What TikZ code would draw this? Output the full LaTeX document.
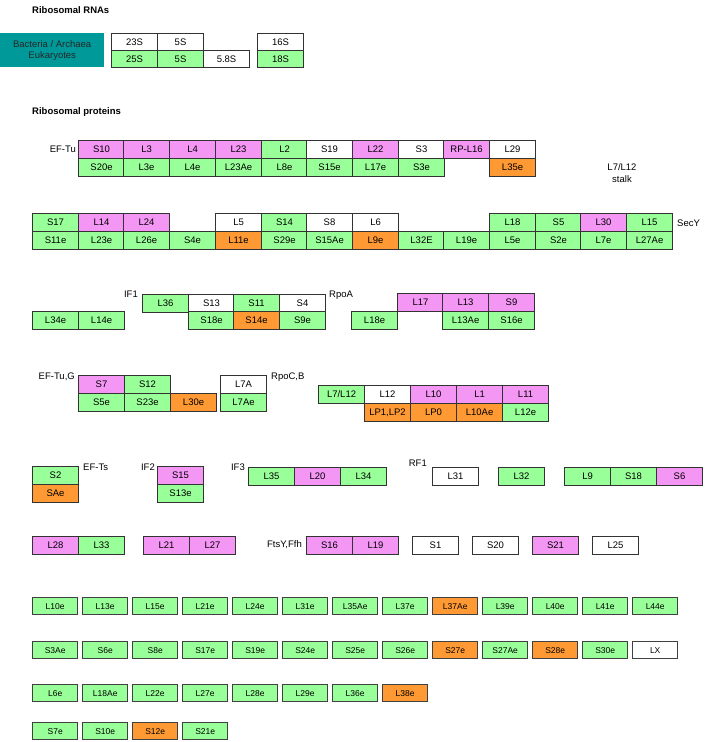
\documentclass[tikz,border=0pt]{standalone}
\usepackage{fontspec}
\setmainfont{Liberation Sans}
\definecolor{pk}{RGB}{244,150,244}
\definecolor{gr}{RGB}{153,255,153}
\definecolor{or}{RGB}{255,153,51}
\definecolor{wh}{RGB}{255,255,255}
\definecolor{tl}{RGB}{0,153,153}
\tikzset{
 cellbox/.style={draw=black!80,line width=1.1pt,inner sep=0pt,anchor=north west,minimum width=46pt,minimum height=18pt,font=\fontsize{9.5}{10}\selectfont},
 gbox/.style={draw=black!75,line width=1.4pt,inner sep=0pt,anchor=north west,minimum width=45pt,minimum height=17pt,font=\fontsize{8.5}{9}\selectfont},
 lbl/.style={inner sep=0pt,font=\fontsize{9.5}{10}\selectfont},
 hdr/.style={inner sep=0pt,anchor=west,font=\bfseries\fontsize{9.5}{10}\selectfont}
}
\newcommand\bx[4]{\node[cellbox,fill=#3] (n-#1-#2) at (#1,#2) {#4};}
\newcommand\gbx[4]{\node[gbox,fill=#3] (g-#1-#2) at (#1,#2) {#4};}
\begin{document}
\begin{tikzpicture}[x=1pt,y=-1pt]
\useasboundingbox (0,0) rectangle (705,742);
% headers
\node[hdr] (h1) at (32,10) {Ribosomal RNAs};
\node[hdr] (h2) at (32,112) {Ribosomal proteins};
% RNA
\node[fill=tl,anchor=north west,minimum width=104pt,minimum height=34pt,inner sep=0pt,font=\fontsize{9.5}{11}\selectfont,align=center,text=black!85] (teal) at (0,33) {Bacteria / Archaea\\Eukaryotes};
\node[cellbox,fill=wh,minimum height=17pt] (r1) at (111,33) {23S};
\node[cellbox,fill=wh,minimum height=17pt] (r2) at (157,33) {5S};
\node[cellbox,fill=gr,minimum height=17pt] (r3) at (111,50) {25S};
\node[cellbox,fill=gr,minimum height=17pt] (r4) at (157,50) {5S};
\node[cellbox,fill=wh,minimum height=17pt] (r5) at (203,50) {5.8S};
\node[cellbox,fill=wh,minimum height=17pt] (r6) at (257,33) {16S};
\node[cellbox,fill=gr,minimum height=17pt] (r7) at (257,50) {18S};
% row 1
\node[lbl,anchor=east] (efTu) at (76,149) {EF-Tu};
\bx{78}{140}{pk}{S10}\bx{123}{140}{pk}{L3}\bx{169}{140}{pk}{L4}\bx{215}{140}{pk}{L23}\bx{261}{140}{gr}{L2}
\bx{306}{140}{wh}{S19}\bx{352}{140}{pk}{L22}\bx{398}{140}{wh}{S3}\bx{443}{140}{pk}{RP-L16}\bx{489}{140}{wh}{L29}
\bx{78}{158}{gr}{S20e}\bx{123}{158}{gr}{L3e}\bx{169}{158}{gr}{L4e}\bx{215}{158}{gr}{L23Ae}\bx{261}{158}{gr}{L8e}
\bx{306}{158}{gr}{S15e}\bx{352}{158}{gr}{L17e}\bx{398}{158}{gr}{S3e}\bx{489}{158}{or}{L35e}
\node[lbl,align=center,font=\fontsize{9.5}{12}\selectfont] (stalk) at (622,173) {L7/L12\\stalk};
% row 2
\bx{32}{213}{gr}{S17}\bx{78}{213}{pk}{L14}\bx{123}{213}{pk}{L24}\bx{215}{213}{wh}{L5}\bx{261}{213}{gr}{S14}
\bx{306}{213}{wh}{S8}\bx{352}{213}{wh}{L6}\bx{489}{213}{gr}{L18}\bx{535}{213}{gr}{S5}\bx{580}{213}{pk}{L30}\bx{626}{213}{gr}{L15}
\bx{32}{231}{gr}{S11e}\bx{78}{231}{gr}{L23e}\bx{123}{231}{gr}{L26e}\bx{169}{231}{gr}{S4e}\bx{215}{231}{or}{L11e}
\bx{261}{231}{gr}{S29e}\bx{306}{231}{gr}{S15Ae}\bx{352}{231}{or}{L9e}\bx{398}{231}{gr}{L32E}\bx{443}{231}{gr}{L19e}
\bx{489}{231}{gr}{L5e}\bx{535}{231}{gr}{S2e}\bx{580}{231}{gr}{L7e}\bx{626}{231}{gr}{L27Ae}
\node[lbl,anchor=west] (secy) at (677,223) {SecY};
% row 3
\node[lbl,anchor=east] (if1) at (138,294) {IF1};
\bx{142}{294}{gr}{L36}\bx{188}{294}{wh}{S13}\bx{233}{294}{gr}{S11}\bx{279}{294}{wh}{S4}
\bx{188}{311}{gr}{S18e}\bx{233}{311}{or}{S14e}\bx{279}{311}{gr}{S9e}
\bx{32}{311}{gr}{L34e}\bx{78}{311}{gr}{L14e}
\node[lbl,anchor=west] (rpoa) at (329,295) {RpoA};
\bx{397}{293}{pk}{L17}\bx{442}{293}{pk}{L13}\bx{488}{293}{pk}{S9}
\bx{351}{311}{gr}{L18e}\bx{442}{311}{gr}{L13Ae}\bx{488}{311}{gr}{S16e}
% row 4
\node[lbl,anchor=east] (eftug) at (75,377) {EF-Tu,G};
\bx{78}{375}{pk}{S7}\bx{124}{375}{gr}{S12}
\bx{78}{393}{gr}{S5e}\bx{124}{393}{gr}{S23e}\bx{170}{393}{or}{L30e}
\bx{220}{375}{wh}{L7A}\bx{220}{393}{gr}{L7Ae}
\node[lbl,anchor=west] (rpoc) at (271,377) {RpoC,B};
\bx{318}{385}{gr}{L7/L12}\bx{364}{385}{wh}{L12}\bx{410}{385}{pk}{L10}\bx{456}{385}{pk}{L1}\bx{502}{385}{pk}{L11}
\bx{364}{403}{or}{LP1,LP2}\bx{410}{403}{or}{LP0}\bx{456}{403}{or}{L10Ae}\bx{502}{403}{gr}{L12e}
% row 5
\bx{32}{466}{gr}{S2}\bx{32}{484}{or}{SAe}
\node[lbl,anchor=west] (efts) at (83,467) {EF-Ts};
\node[lbl,anchor=east] (if2) at (155,467) {IF2};
\bx{157}{466}{pk}{S15}\bx{157}{484}{gr}{S13e}
\node[lbl,anchor=east] (if3) at (245,467) {IF3};
\bx{248}{467}{gr}{L35}\bx{294}{467}{pk}{L20}\bx{340}{467}{gr}{L34}
\node[lbl,anchor=east] (rf1) at (427,463) {RF1};
\bx{432}{467}{wh}{L31}\bx{498}{467}{gr}{L32}
\bx{564}{467}{gr}{L9}\bx{610}{467}{gr}{S18}\bx{656}{467}{pk}{S6}
% row 6
\bx{32}{536}{pk}{L28}\bx{78}{536}{gr}{L33}
\bx{143}{536}{pk}{L21}\bx{189}{536}{pk}{L27}
\node[lbl,anchor=east] (ftsy) at (302,545) {FtsY,Ffh};
\bx{306}{536}{pk}{S16}\bx{352}{536}{pk}{L19}
\bx{412}{536}{wh}{S1}\bx{472}{536}{wh}{S20}\bx{532}{536}{pk}{S21}\bx{592}{536}{wh}{L25}
% bottom grid
\foreach \t/\c [count=\i from 0] in {L10e/gr,L13e/gr,L15e/gr,L21e/gr,L24e/gr,L31e/gr,L35Ae/gr,L37e/gr,L37Ae/or,L39e/gr,L40e/gr,L41e/gr,L44e/gr}
 {\pgfmathtruncatemacro\xx{32+50*\i}\gbx{\xx}{597}{\c}{\t}}
\foreach \t/\c [count=\i from 0] in {S3Ae/gr,S6e/gr,S8e/gr,S17e/gr,S19e/gr,S24e/gr,S25e/gr,S26e/gr,S27e/or,S27Ae/gr,S28e/or,S30e/gr,LX/wh}
 {\pgfmathtruncatemacro\xx{32+50*\i}\gbx{\xx}{641}{\c}{\t}}
\foreach \t/\c [count=\i from 0] in {L6e/gr,L18Ae/gr,L22e/gr,L27e/gr,L28e/gr,L29e/gr,L36e/gr,L38e/or}
 {\pgfmathtruncatemacro\xx{32+50*\i}\gbx{\xx}{684}{\c}{\t}}
\foreach \t/\c [count=\i from 0] in {S7e/gr,S10e/gr,S12e/or,S21e/gr}
 {\pgfmathtruncatemacro\xx{32+50*\i}\gbx{\xx}{722}{\c}{\t}}
\end{tikzpicture}
\end{document}
